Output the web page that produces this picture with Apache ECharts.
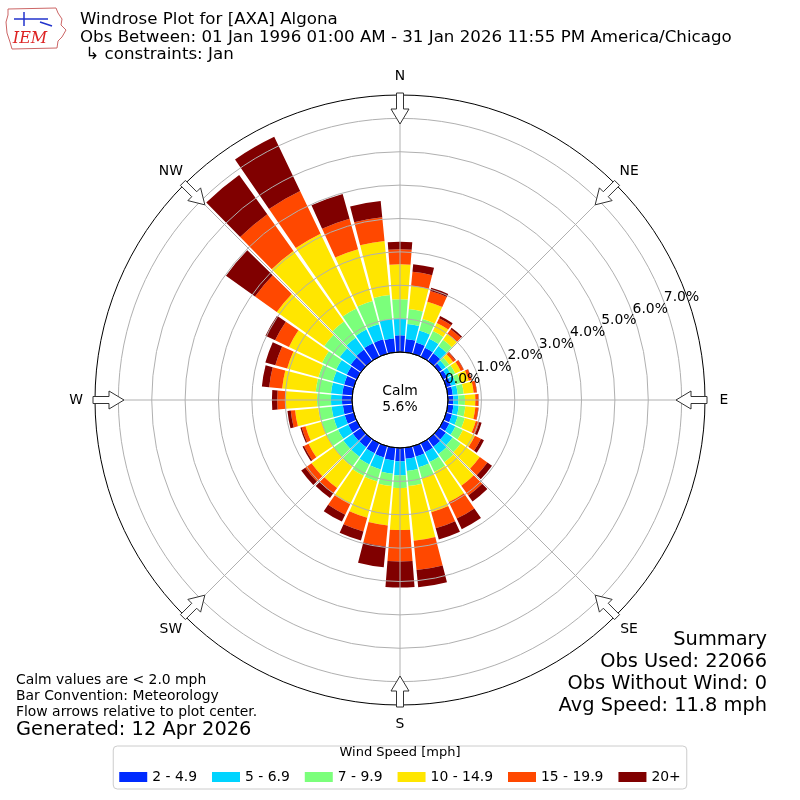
<!DOCTYPE html>
<html><head><meta charset="utf-8">
<script src="https://cdn.jsdelivr.net/npm/echarts@6/dist/echarts.min.js"></script>
<style>html,body{margin:0;padding:0;background:#fff}#c{width:800px;height:800px}</style>
</head><body><div id="c"></div>
<script>
// ---- data (percent of observations, per 10-degree sector) ----
const directions = [0,10,20,30,40,50,60,70,80,90,100,110,120,130,140,150,160,170,180,190,200,210,220,230,240,250,260,270,280,290,300,310,320,330,340,350];
const speedBins = ['2 - 4.9','5 - 6.9','7 - 9.9','10 - 14.9','15 - 19.9','20+'];
const binColors = ['#002bff','#00d4ff','#7bff7b','#ffe600','#ff4800','#800000'];
const bin2to5   = [0.50,0.40,0.35,0.30,0.28,0.12,0.13,0.15,0.15,0.16,0.17,0.18,0.20,0.25,0.28,0.30,0.32,0.33,0.40,0.38,0.35,0.33,0.30,0.30,0.28,0.28,0.28,0.30,0.30,0.30,0.33,0.38,0.42,0.45,0.45,0.42];
const bin5to7   = [0.50,0.45,0.37,0.30,0.27,0.13,0.14,0.15,0.15,0.15,0.16,0.18,0.20,0.25,0.27,0.32,0.33,0.37,0.42,0.40,0.37,0.37,0.35,0.35,0.34,0.34,0.34,0.33,0.34,0.35,0.35,0.40,0.43,0.45,0.47,0.58];
const bin7to10  = [0.58,0.45,0.36,0.25,0.23,0.13,0.13,0.15,0.18,0.20,0.20,0.22,0.25,0.30,0.30,0.33,0.35,0.45,0.38,0.37,0.38,0.38,0.37,0.35,0.38,0.38,0.40,0.42,0.46,0.45,0.47,0.57,0.60,0.70,0.72,0.72];
const bin10to15 = [1.05,0.70,0.54,0.27,0.22,0.14,0.18,0.25,0.30,0.31,0.30,0.34,0.40,0.70,0.87,1.00,1.05,1.65,1.26,1.19,1.12,0.94,0.78,0.82,0.60,0.50,0.70,0.93,1.01,0.97,1.10,1.75,2.60,2.48,1.61,1.63];
const bin15to20 = [0.45,0.42,0.33,0.16,0.17,0.08,0.09,0.09,0.09,0.09,0.09,0.11,0.20,0.28,0.36,0.55,0.50,0.88,0.94,0.63,0.43,0.35,0.20,0.23,0.15,0.12,0.13,0.26,0.39,0.37,0.46,0.80,1.35,1.42,0.95,0.71];
const bin20plus = [0.22,0.23,0.10,0.07,0.05,0.02,0.01,0.01,0.01,0.01,0.01,0.07,0.10,0.17,0.22,0.35,0.35,0.52,0.78,0.63,0.28,0.23,0.17,0.15,0.05,0.04,0.10,0.16,0.22,0.31,0.32,1.07,1.45,1.80,0.77,0.49];
const binData = [bin2to5, bin5to7, bin7to10, bin10to15, bin15to20, bin20plus];
const ringTicks = [0,1,2,3,4,5,6,7];
const compassLabels = ['N','NE','E','SE','S','SW','W','NW'];
const compassAngles = [0,45,90,135,180,225,270,315];
const calmPct = '5.6%';
const titleLines = ['Windrose Plot for [AXA] Algona','Obs Between: 01 Jan 1996 01:00 AM - 31 Jan 2026 11:55 PM America/Chicago',' \u21b3 constraints: Jan'];
const noteLines = ['Calm values are < 2.0 mph','Bar Convention: Meteorology','Flow arrows relative to plot center.'];
const generated = 'Generated: 12 Apr 2026';
const summaryLines = ['Summary','Obs Used: 22066','Obs Without Wind: 0','Avg Speed: 11.8 mph'];
const legendTitle = 'Wind Speed [mph]';

// ---- layout ----
const CX = 400, CY = 400, R0 = 48, R1 = 305, RMAX = 7.7;
const RING_OUT = R0 + ringTicks[ringTicks.length-1] * (R1 - R0) / RMAX;
const LABEL_ANGLE = 20.5;
const FONT = 'DejaVu Sans';

const chart = echarts.init(document.getElementById('c'), null, {renderer:'canvas'});

const series = speedBins.map((name, i) => ({
  name, type:'bar', coordinateSystem:'polar', polarIndex:0, stack:'wind',
  data: binData[i], barCategoryGap:'11%',
  itemStyle:{color: binColors[i]}, z:2, silent:true
}));

const graphic = [];
// calm hole outline
graphic.push({type:'circle', shape:{cx:CX, cy:CY, r:R0}, style:{fill:'none', stroke:'#000', lineWidth:1}, z:50, silent:true});
graphic.push({type:'text', x:CX, y:CY-1, style:{text:'Calm\n' + calmPct, fontSize:13.9, fontFamily:FONT, fill:'#000', align:'center', verticalAlign:'middle', lineHeight:16}, z:50});
// flow arrows and compass labels
compassAngles.forEach((a, k) => {
  const t = a * Math.PI/180, ux = Math.sin(t), uy = -Math.cos(t), px = Math.cos(t), py = Math.sin(t);
  const P = (r, w) => [CX + r*ux + w*px, CY + r*uy + w*py];
  graphic.push({type:'polygon', shape:{points:[P(276,0),P(291,9),P(291,3.5),P(307,3.5),P(307,-3.5),P(291,-3.5),P(291,-9)]},
    style:{fill:'#fff', stroke:'#333', lineWidth:1}, z:60, silent:true});
  const L = P(324, 0);
  graphic.push({type:'text', x:L[0], y:L[1], style:{text:compassLabels[k], fontSize:13.9, fontFamily:FONT, fill:'#000', align:'center', verticalAlign:'middle'}, z:60});
});
// ring (radius tick) labels
ringTicks.forEach(v => {
  const r = R0 + v * (R1 - R0) / RMAX, t = LABEL_ANGLE * Math.PI/180;
  graphic.push({type:'text', x:CX + r*Math.cos(t), y:CY - r*Math.sin(t) + 3,
    style:{text:v.toFixed(1) + '%', fontSize:13.9, fontFamily:FONT, fill:'#000', align:'left', verticalAlign:'bottom'}, z:40});
});
// titles
titleLines.forEach((t, i) => graphic.push({type:'text', x:80, y:[20,37.5,55][i], style:{text:t, fontSize:16.67, fontFamily:FONT, fill:'#000', align:'left', verticalAlign:'middle'}}));
noteLines.forEach((t, i) => graphic.push({type:'text', x:16, y:680 + i*16, style:{text:t, fontSize:13.9, fontFamily:FONT, fill:'#000', align:'left', verticalAlign:'middle'}}));
graphic.push({type:'text', x:16, y:730, style:{text:generated, fontSize:19.4, fontFamily:FONT, fill:'#000', align:'left', verticalAlign:'middle'}});
summaryLines.forEach((t, i) => graphic.push({type:'text', x:767, y:640 + i*22, style:{text:t, fontSize:19.4, fontFamily:FONT, fill:'#000', align:'right', verticalAlign:'middle'}}));
graphic.push({type:'text', x:400, y:753, style:{text:legendTitle, fontSize:13, fontFamily:FONT, fill:'#000', align:'center', verticalAlign:'middle'}, z:20});
// logo (approximate)
graphic.push({type:'polyline', shape:{points:[[8,9],[56,8],[58,13],[62,19],[61,25],[66,30],[62,37],[58,41],[57,48],[12,49],[10,42],[7,33],[6,22],[8,15],[8,9]]}, style:{stroke:'#c66', lineWidth:1, fill:'none'}});
graphic.push({type:'polyline', shape:{points:[[14,19],[48,19]]}, style:{stroke:'#23c', lineWidth:1.5}});
graphic.push({type:'polyline', shape:{points:[[24,12],[24,26]]}, style:{stroke:'#23c', lineWidth:1.5}});
graphic.push({type:'polyline', shape:{points:[[40,22],[52,26]]}, style:{stroke:'#23c', lineWidth:1.5}});
graphic.push({type:'text', x:30, y:39, style:{text:'IEM', fontSize:16, fontFamily:'DejaVu Serif', fontStyle:'italic', fill:'#d22', align:'center', verticalAlign:'middle'}});

const option = {
  animation:false,
  backgroundColor:'#fff',
  polar:[
    {center:[CX,CY], radius:[R0,R1]},
    {center:[CX,CY], radius:[R0,R1]},
    {center:[CX,CY], radius:[R0,RING_OUT]}
  ],
  angleAxis:[
    {polarIndex:0, type:'category', data:directions.map(String), startAngle:95, clockwise:true, boundaryGap:true,
     axisLine:{show:false}, axisTick:{show:false}, axisLabel:{show:false}, splitLine:{show:false}, splitArea:{show:false}},
    {polarIndex:1, type:'value', min:0, max:360, interval:45, startAngle:90, clockwise:true, z:10,
     axisLine:{show:true, lineStyle:{color:'#000', width:1}}, axisTick:{show:false}, axisLabel:{show:false},
     splitLine:{show:true, lineStyle:{color:'#b0b0b0', width:1}}, splitArea:{show:false}},
    {polarIndex:2, type:'value', min:0, max:360, startAngle:LABEL_ANGLE, clockwise:false,
     axisLine:{show:false}, axisTick:{show:false}, axisLabel:{show:false}, splitLine:{show:false}, splitArea:{show:false}}
  ],
  radiusAxis:[
    {polarIndex:0, type:'value', min:0, max:RMAX, axisLine:{show:false}, axisTick:{show:false}, axisLabel:{show:false}, splitLine:{show:false}},
    {polarIndex:1, type:'value', min:0, max:RMAX, axisLine:{show:false}, axisTick:{show:false}, axisLabel:{show:false}, splitLine:{show:false}},
    {polarIndex:2, type:'value', min:ringTicks[0], max:ringTicks[ringTicks.length-1], interval:1, z:10,
     axisLine:{show:false}, axisTick:{show:false}, axisLabel:{show:false},
     splitLine:{show:true, lineStyle:{color:'#b0b0b0', width:1}}}
  ],
  legend:{
    data:speedBins, left:'center', bottom:11, orient:'horizontal', icon:'rect',
    itemWidth:28, itemHeight:10, itemGap:15, selectedMode:false,
    textStyle:{fontSize:13.9, fontFamily:FONT, color:'#000'},
    padding:[24,6,5,6], borderColor:'#cccccc', borderWidth:1, borderRadius:4, backgroundColor:'#fff'
  },
  series,
  graphic
};
chart.setOption(option);
</script>
</body></html>
